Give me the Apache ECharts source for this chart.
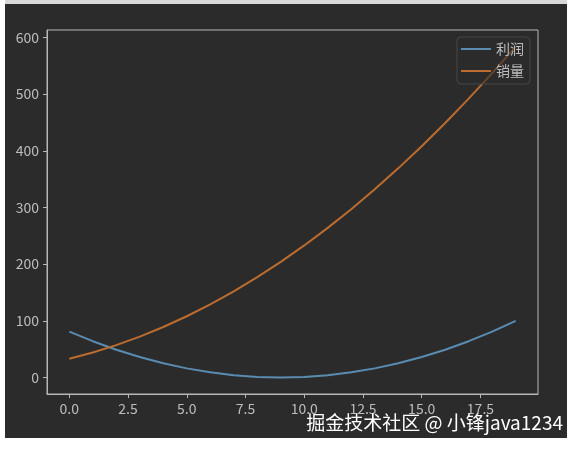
<!DOCTYPE html>
<html>
<head>
<meta charset="utf-8">
<title>利润与销量</title>
<script src="https://cdn.jsdelivr.net/npm/echarts@6/dist/echarts.min.js"></script>
<style>
  html, body { margin: 0; padding: 0; background: #ffffff; }
  #strip { position: absolute; left: 5px; top: 0; width: 562px; height: 4px; background: #d8d8d8; }
  #frame { position: absolute; left: 5px; top: 4px; width: 562px; height: 434px; background: #2b2b2b; }
  #chart { width: 562px; height: 434px; }
</style>
</head>
<body>
<div id="strip"></div>
<div id="frame"><div id="chart"></div></div>
<script>
  // x 坐标 0..19
  var xs = [0, 1, 2, 3, 4, 5, 6, 7, 8, 9, 10, 11, 12, 13, 14, 15, 16, 17, 18, 19];
  var profit = [81, 64, 49, 36, 25, 16, 9, 4, 1, 0, 1, 4, 9, 16, 25, 36, 49, 64, 81, 100];
  var sales = [33, 44, 57, 72, 89, 108, 129, 152, 177, 204, 233, 264, 297, 332, 369, 408, 449, 492, 537, 584];
  var xTicks = [0, 2.5, 5, 7.5, 10, 12.5, 15, 17.5];
  var yTicks = [0, 100, 200, 300, 400, 500, 600];
  var seriesNames = ['利润', '销量'];
  var watermark = '掘金技术社区 @ 小锋java1234';

  function pairs(vals) {
    return xs.map(function (x, i) { return [x, vals[i]]; });
  }

  var font = '"Noto Sans CJK SC", "Noto Sans", sans-serif';
  var labelColor = '#bdbdbd';
  var axisColor = '#b8b8b8';

  var chart = echarts.init(document.getElementById('chart'));
  chart.setOption({
    backgroundColor: '#2b2b2b',
    animation: false,
    textStyle: { fontFamily: font },
    grid: {
      left: 42, top: 26, width: 491, height: 364,
      show: true, borderColor: axisColor, borderWidth: 1, backgroundColor: '#2b2b2b'
    },
    legend: {
      orient: 'vertical',
      right: 37, top: 33,
      data: seriesNames,
      icon: 'rect',
      itemWidth: 30, itemHeight: 2,
      itemGap: 8,
      padding: [5, 6, 6, 4],
      backgroundColor: 'rgba(43,43,43,0.6)',
      borderColor: '#474747', borderWidth: 1, borderRadius: 4,
      textStyle: { color: labelColor, fontSize: 14, fontFamily: font }
    },
    xAxis: {
      type: 'value', min: -0.95, max: 19.95,
      splitLine: { show: false },
      axisLine: { show: true, onZero: false, lineStyle: { color: axisColor } },
      axisTick: { show: true, length: 4, customValues: xTicks, lineStyle: { color: axisColor } },
      axisLabel: {
        customValues: xTicks, color: labelColor, fontSize: 14, margin: 8,
        formatter: function (v) { return v.toFixed(1); }
      }
    },
    yAxis: {
      type: 'value', min: -29.2, max: 613.2,
      splitLine: { show: false },
      axisLine: { show: true, onZero: false, lineStyle: { color: axisColor } },
      axisTick: { show: true, length: 4, customValues: yTicks, lineStyle: { color: axisColor } },
      axisLabel: { customValues: yTicks, color: labelColor, fontSize: 14, margin: 8 }
    },
    series: [{
      name: seriesNames[0], type: 'line', data: pairs(profit),
      showSymbol: false, symbol: 'none',
      itemStyle: { color: '#5a8cb2' }, lineStyle: { color: '#5a8cb2', width: 2 }
    }, {
      name: seriesNames[1], type: 'line', data: pairs(sales),
      showSymbol: false, symbol: 'none',
      itemStyle: { color: '#bb6c2e' }, lineStyle: { color: '#bb6c2e', width: 2 }
    }],
    graphic: [{
      type: 'text', right: 4, top: 409, z: 100,
      style: { text: watermark, fill: '#ffffff', font: '19px ' + font }
    }]
  });
</script>
</body>
</html>
